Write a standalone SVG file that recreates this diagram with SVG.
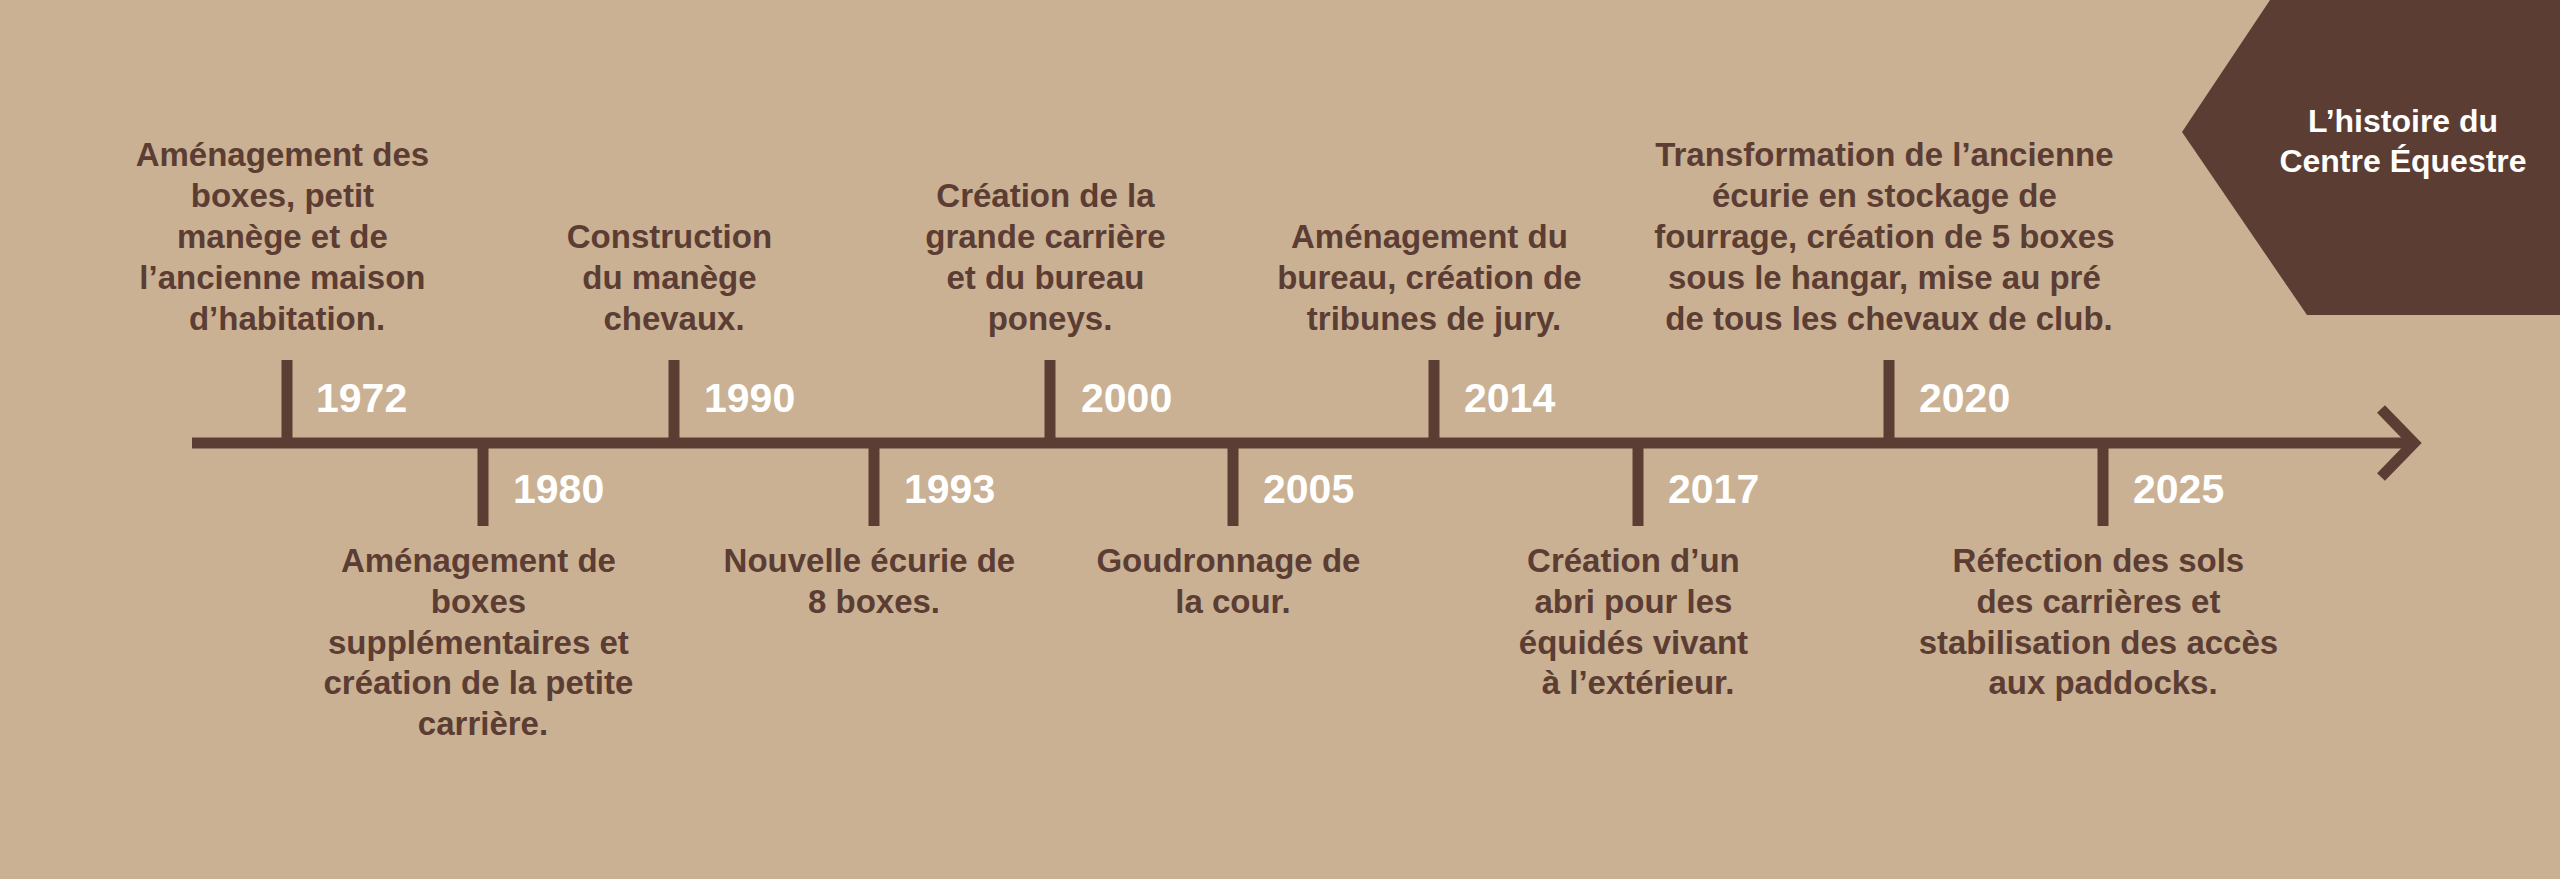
<svg xmlns="http://www.w3.org/2000/svg" width="2560" height="879" viewBox="0 0 2560 879">
<style>
.bg{fill:#CAB194}
.tick{stroke:#5C3D33;stroke-width:11;fill:none}
.axis{stroke:#5C3D33;stroke-width:11;fill:none;stroke-linecap:butt}
.year{font-family:"Liberation Sans",Arial,sans-serif;font-weight:700;font-size:41px;fill:#FFFFFF}
.desc{font-family:"Liberation Sans",Arial,sans-serif;font-weight:700;font-size:33px;fill:#5C3D33;text-anchor:middle}
.banner{fill:#5C3D33}
.title{font-family:"Liberation Sans",Arial,sans-serif;font-weight:700;font-size:32px;fill:#FFFFFF;text-anchor:middle}
</style>
<rect class="bg" x="0" y="0" width="2560" height="879"/>

<g id="connectors">
  <line class="axis" x1="192" y1="443" x2="2410" y2="443"/>
  <polyline class="axis" points="2381,409 2414,443 2381,477" stroke-linejoin="miter"/>
</g>

<g id="title">
  <polygon class="banner" points="2270,0 2560,0 2560,315 2307,315 2182,132"/>
  <text class="title" x="2403" y="132">L’histoire du</text>
  <text class="title" x="2403" y="172">Centre Équestre</text>
</g>

<g id="event-1972">
  <line class="tick" x1="287" y1="360" x2="287" y2="443"/>
  <text class="year" x="316" y="412">1972</text>
  <text class="desc" x="287" y="166">
    <tspan x="287" dy="0">Aménagement des</tspan>
    <tspan x="287" dy="41">boxes, petit</tspan>
    <tspan x="287" dy="41">manège et de</tspan>
    <tspan x="287" dy="41">l’ancienne maison</tspan>
    <tspan x="287" dy="41">d’habitation.</tspan>
  </text>
</g>

<g id="event-1980">
  <line class="tick" x1="483" y1="443" x2="483" y2="526"/>
  <text class="year" x="513" y="503">1980</text>
  <text class="desc" x="483" y="572">
    <tspan x="483" dy="0">Aménagement de</tspan>
    <tspan x="483" dy="40.75">boxes</tspan>
    <tspan x="483" dy="40.75">supplémentaires et</tspan>
    <tspan x="483" dy="40.75">création de la petite</tspan>
    <tspan x="483" dy="40.75">carrière.</tspan>
  </text>
</g>

<g id="event-1990">
  <line class="tick" x1="674" y1="360" x2="674" y2="443"/>
  <text class="year" x="704" y="412">1990</text>
  <text class="desc" x="674" y="248">
    <tspan x="674" dy="0">Construction</tspan>
    <tspan x="674" dy="41">du manège</tspan>
    <tspan x="674" dy="41">chevaux.</tspan>
  </text>
</g>

<g id="event-1993">
  <line class="tick" x1="874" y1="443" x2="874" y2="526"/>
  <text class="year" x="904" y="503">1993</text>
  <text class="desc" x="874" y="572">
    <tspan x="874" dy="0">Nouvelle écurie de</tspan>
    <tspan x="874" dy="40.75">8 boxes.</tspan>
  </text>
</g>

<g id="event-2000">
  <line class="tick" x1="1050" y1="360" x2="1050" y2="443"/>
  <text class="year" x="1081" y="412">2000</text>
  <text class="desc" x="1050" y="207">
    <tspan x="1050" dy="0">Création de la</tspan>
    <tspan x="1050" dy="41">grande carrière</tspan>
    <tspan x="1050" dy="41">et du bureau</tspan>
    <tspan x="1050" dy="41">poneys.</tspan>
  </text>
</g>

<g id="event-2005">
  <line class="tick" x1="1233" y1="443" x2="1233" y2="526"/>
  <text class="year" x="1263" y="503">2005</text>
  <text class="desc" x="1233" y="572">
    <tspan x="1233" dy="0">Goudronnage de</tspan>
    <tspan x="1233" dy="40.75">la cour.</tspan>
  </text>
</g>

<g id="event-2014">
  <line class="tick" x1="1434" y1="360" x2="1434" y2="443"/>
  <text class="year" x="1464" y="412">2014</text>
  <text class="desc" x="1434" y="248">
    <tspan x="1434" dy="0">Aménagement du</tspan>
    <tspan x="1434" dy="41">bureau, création de</tspan>
    <tspan x="1434" dy="41">tribunes de jury.</tspan>
  </text>
</g>

<g id="event-2017">
  <line class="tick" x1="1638" y1="443" x2="1638" y2="526"/>
  <text class="year" x="1668" y="503">2017</text>
  <text class="desc" x="1638" y="572">
    <tspan x="1638" dy="0">Création d’un</tspan>
    <tspan x="1638" dy="40.75">abri pour les</tspan>
    <tspan x="1638" dy="40.75">équidés vivant</tspan>
    <tspan x="1638" dy="40.75">à l’extérieur.</tspan>
  </text>
</g>

<g id="event-2020">
  <line class="tick" x1="1889" y1="360" x2="1889" y2="443"/>
  <text class="year" x="1919" y="412">2020</text>
  <text class="desc" x="1889" y="166">
    <tspan x="1889" dy="0">Transformation de l’ancienne</tspan>
    <tspan x="1889" dy="41">écurie en stockage de</tspan>
    <tspan x="1889" dy="41">fourrage, création de 5 boxes</tspan>
    <tspan x="1889" dy="41">sous le hangar, mise au pré</tspan>
    <tspan x="1889" dy="41">de tous les chevaux de club.</tspan>
  </text>
</g>

<g id="event-2025">
  <line class="tick" x1="2103" y1="443" x2="2103" y2="526"/>
  <text class="year" x="2133" y="503">2025</text>
  <text class="desc" x="2103" y="572">
    <tspan x="2103" dy="0">Réfection des sols</tspan>
    <tspan x="2103" dy="40.75">des carrières et</tspan>
    <tspan x="2103" dy="40.75">stabilisation des accès</tspan>
    <tspan x="2103" dy="40.75">aux paddocks.</tspan>
  </text>
</g>
</svg>
